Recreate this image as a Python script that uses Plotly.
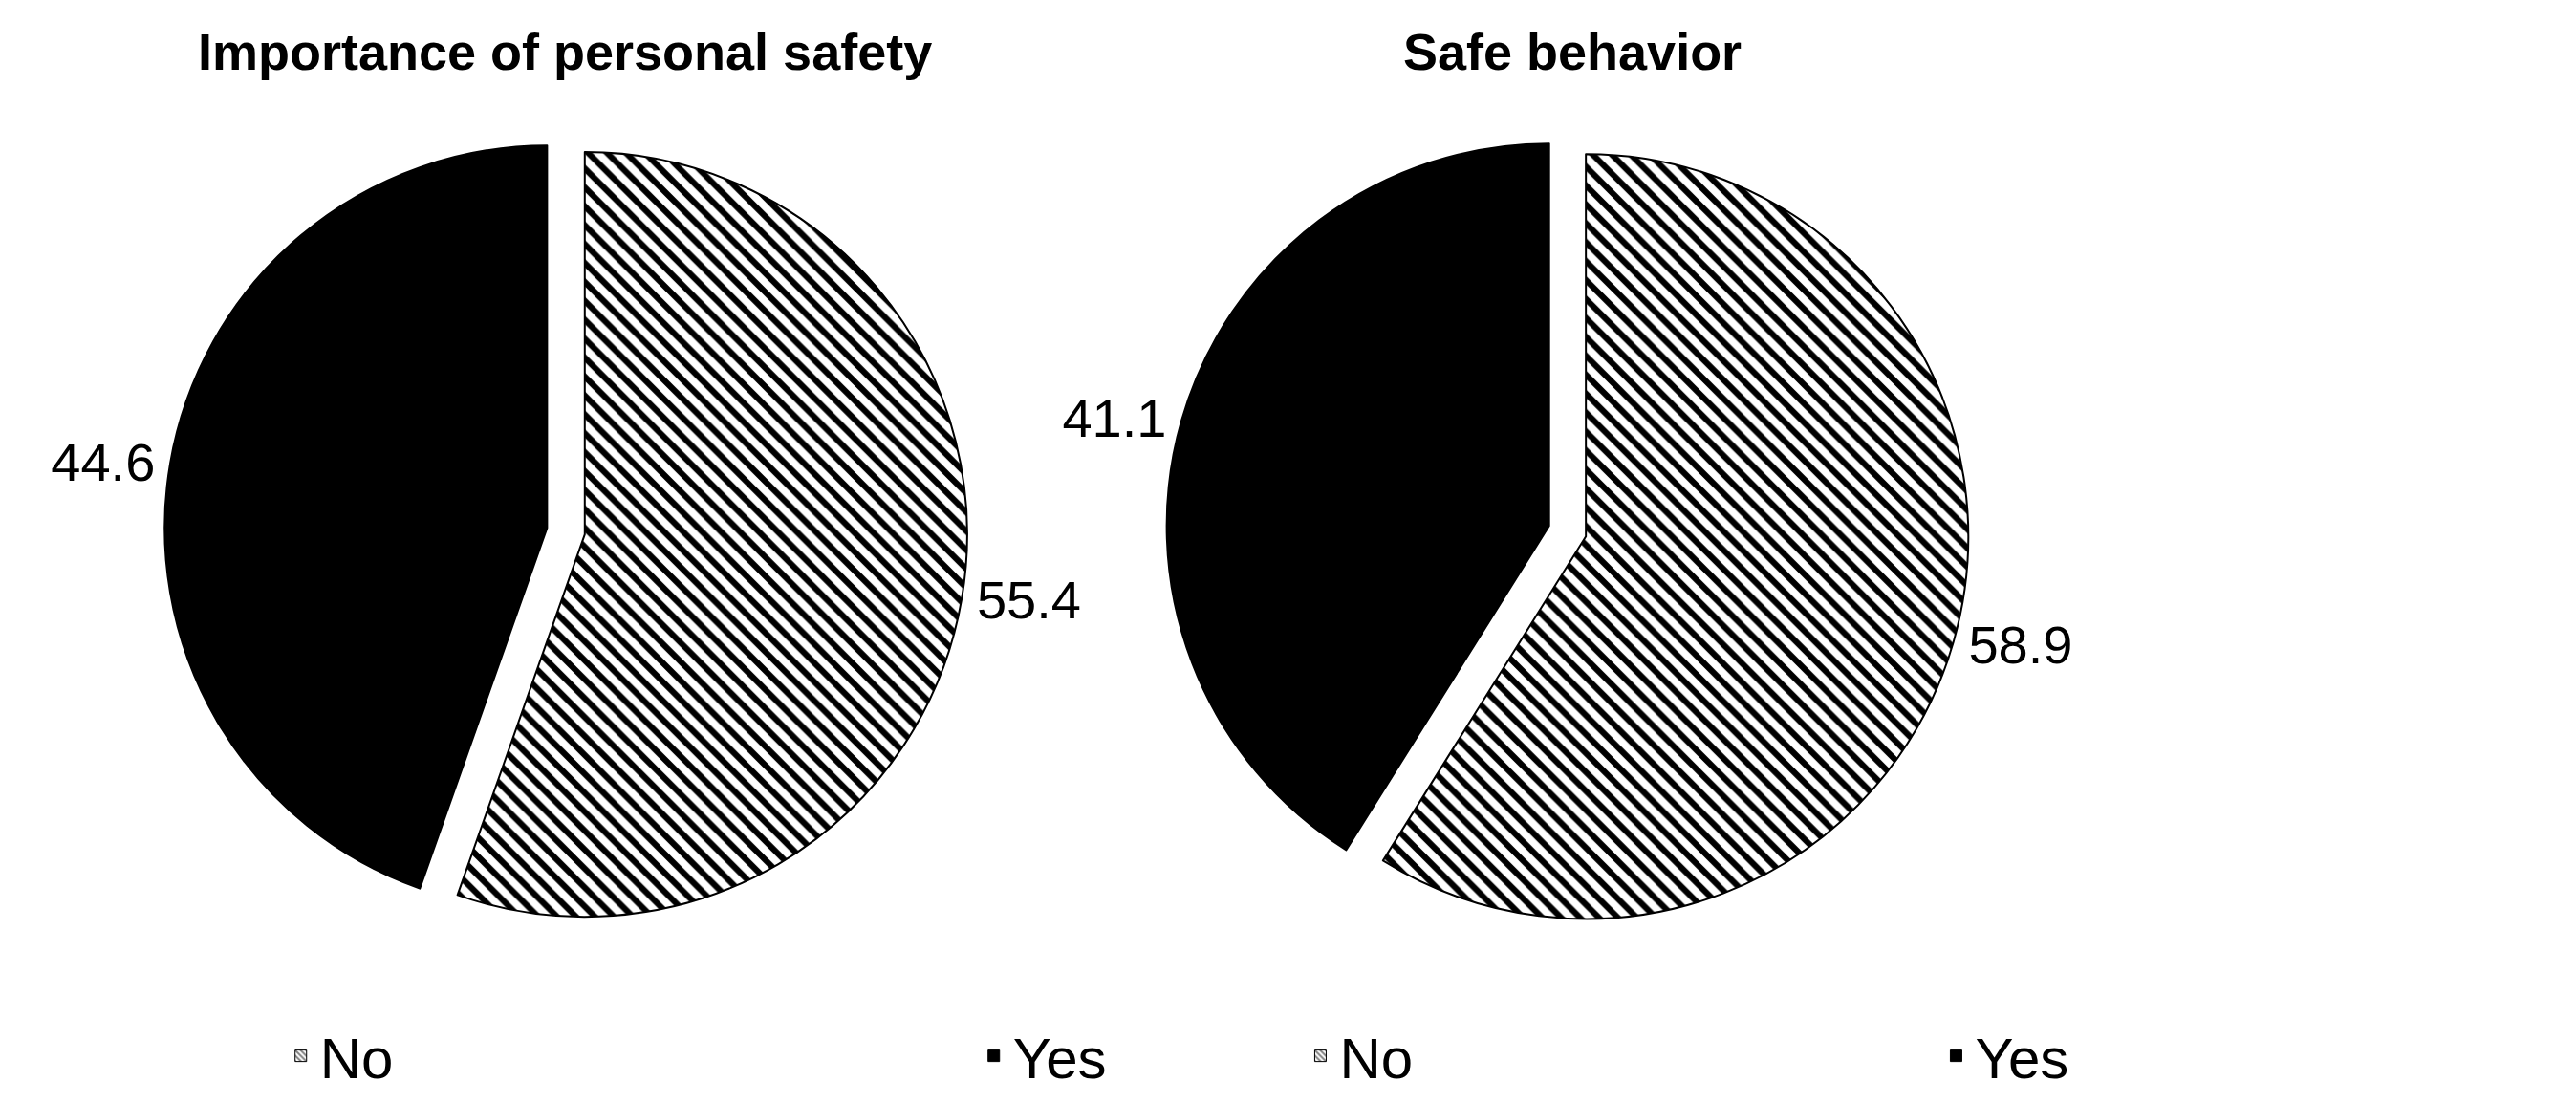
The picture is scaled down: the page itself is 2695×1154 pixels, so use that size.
import plotly.graph_objects as go

labels = ["No", "Yes"]
titles = ["Importance of personal safety", "Safe behavior"]
values1 = [55.4, 44.6]
values2 = [58.9, 41.1]

fig = go.Figure()
marker = dict(colors=["white", "black"],
              line=dict(color="black", width=2),
              pattern=dict(shape=["\\", ""], fgcolor="black", bgcolor="white", size=14, solidity=0.45))
for vals, dom in [(values1, [0.0, 0.445]), (values2, [0.555, 1.0])]:
    fig.add_trace(go.Pie(labels=labels, values=vals, sort=False, direction="clockwise", rotation=0,
                         pull=[0.05, 0.05], marker=marker, textinfo="value", textposition="outside",
                         texttemplate="%{value:.1f}", textfont=dict(size=56, color="black"),
                         domain=dict(x=dom, y=[0.12, 0.93]), showlegend=False))

# legend entries via hidden bar traces
for leg in ["legend", "legend2"]:
    for lab, col, shp in zip(labels, ["white", "black"], ["\\", ""]):
        fig.add_trace(go.Bar(x=[None], y=[None], name=lab, legend=leg, showlegend=True,
                             marker=dict(color=col, line=dict(color="black", width=1),
                                         pattern=dict(shape=shp, fgcolor="black", bgcolor="white", size=5, solidity=0.5))))

fig.update_xaxes(visible=False)
fig.update_yaxes(visible=False)
fig.update_layout(
    width=2695, height=1154, paper_bgcolor="white", plot_bgcolor="white",
    margin=dict(l=20, r=20, t=20, b=20),
    font=dict(family="Liberation Sans, Arial", color="black"),
    legend=dict(orientation="h", x=0.065, y=-0.01, xanchor="left", yanchor="bottom",
                font=dict(size=60), entrywidth=680, traceorder="normal"),
    legend2=dict(orientation="h", x=0.63, y=-0.01, xanchor="left", yanchor="bottom",
                 font=dict(size=60), entrywidth=620, traceorder="normal"),
    annotations=[
        dict(text="<b>" + titles[0] + "</b>", x=0.222, y=1.005, xref="paper", yref="paper",
             xanchor="center", yanchor="top", showarrow=False, font=dict(size=54)),
        dict(text="<b>" + titles[1] + "</b>", x=0.78, y=1.005, xref="paper", yref="paper",
             xanchor="center", yanchor="top", showarrow=False, font=dict(size=54)),
    ],
)
fig.write_html("out.html")
